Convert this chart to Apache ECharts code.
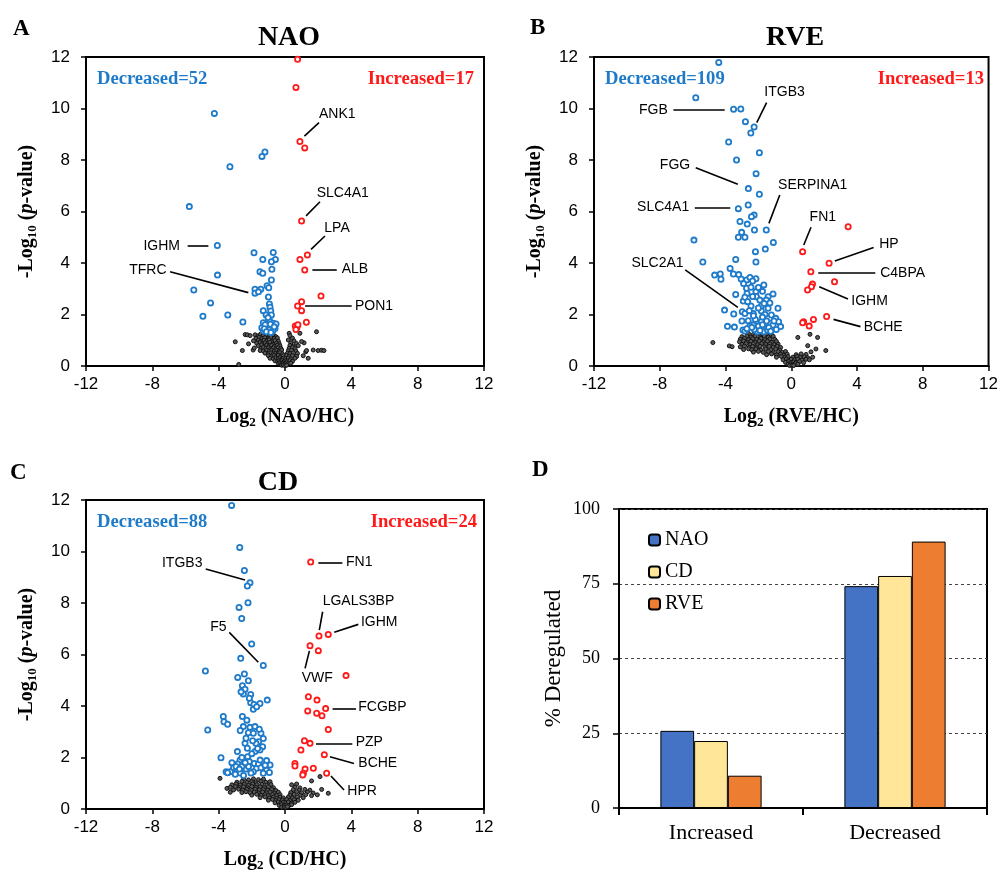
<!DOCTYPE html>
<html><head><meta charset="utf-8">
<script src="https://cdn.jsdelivr.net/npm/echarts@6.0.0/dist/echarts.min.js"></script>
<style>html,body{margin:0;padding:0;background:#fff}#c{width:1001px;height:873px}</style>
</head><body><div id="c"></div>
<script>
// ---------- Data ----------
const volcanoTicks = [-12,-8,-4,0,4,8,12];
// Panel A: NAO
const blueA = [[-4.26,9.81],[-1.21,8.31],[-1.39,8.14],[-3.32,7.74],[-5.77,6.19],[-4.08,4.68],[-4.07,3.53],[-5.5,2.95],[-4.49,2.45],[-4.95,1.93],[-3.45,1.98],[-2.54,1.71],
[-1.87,4.40],[-0.71,4.41],[-0.58,4.14],[-1.34,4.14],[-0.82,4.05],[-0.79,3.76],[-1.51,3.66],[-1.34,3.60],[-0.82,3.34],[-1.08,3.12],[-0.98,3.04],[-1.81,2.98],[-1.46,2.98],[-1.81,2.83],[-1.0,2.68],[-0.94,2.41],[-0.9,2.28],[-1.31,2.15],[-0.86,2.14],[-1.14,1.98],[-0.82,1.98],[-1.31,1.68],[-0.94,1.79],[-0.70,1.66],[-0.54,1.63],[-1.40,1.49],[-1.07,1.55],[-0.78,1.53],[-1.31,1.37],[-0.94,1.40],[-0.60,1.46],[-1.2,1.6],[-0.74,1.36],[-1.25,1.45],[-0.88,1.62],[-1.02,1.88],[-0.65,1.52],[-1.12,1.33],[-0.85,1.30],[-1.6,2.88]];
const redA = [[0.76,11.91],[0.66,10.82],[0.90,8.72],[1.19,8.47],[1.0,5.63],[1.35,4.31],[0.90,4.14],[1.19,3.73],[2.17,2.72],[1.0,2.50],[0.76,2.33],[1.0,2.15],[1.29,1.70],[0.62,1.55],[0.72,1.50],[0.66,1.42],[0.78,1.60]];
const blackA = [[-3.0,0.94],[-2.79,0.06],[-2.57,0.60],[-2.40,1.22],[-2.27,1.21],[-2.10,1.18],[-2.20,0.86],[-1.92,0.62],[1.90,1.33],[2.00,0.60],[2.20,0.61],[2.35,0.60],[1.70,0.62],[1.40,0.30],[1.15,0.90],[1.00,0.95],[0.90,1.27],[0.25,1.27],[1.25,0.55],[1.10,0.40],
[-1.80,1.21],[-1.62,1.17],[-1.48,1.23],[-1.30,1.19],[-1.12,1.22],[-0.92,1.16],[-0.70,1.20],[-0.55,1.14],[0.30,1.18],
[-1.75,1.08],[-1.55,1.12],[-1.40,1.06],[-1.22,1.10],[-1.02,1.05],[-0.86,1.11],[-0.64,1.07],[-0.46,1.09],[0.45,1.08],
[-1.90,0.98],[-1.60,1.01],[-1.46,0.96],[-1.26,1.00],[-1.10,0.97],[-0.96,1.02],[-0.80,0.95],[-0.60,0.99],[-0.40,0.96],[0.20,1.01],[0.55,0.97],
[-1.70,0.88],[-1.50,0.91],[-1.36,0.86],[-1.20,0.90],[-1.05,0.87],[-0.90,0.92],[-0.75,0.85],[-0.50,0.89],[-0.35,0.86],[0.35,0.90],[0.70,0.87],
[-1.60,0.79],[-1.40,0.82],[-1.25,0.77],[-1.10,0.81],[-0.95,0.78],[-0.80,0.80],[-0.65,0.76],[-0.45,0.81],[-0.30,0.78],[0.30,0.80],[0.50,0.77],[0.80,0.79],
[-1.85,0.70],[-1.45,0.68],[-1.30,0.72],[-1.15,0.69],[-1.00,0.71],[-0.85,0.67],[-0.70,0.70],[-0.55,0.66],[-0.40,0.71],[-0.25,0.68],[0.25,0.69],[0.45,0.72],[0.60,0.67],
[-1.50,0.60],[-1.30,0.58],[-1.10,0.62],[-0.95,0.59],[-0.80,0.61],[-0.65,0.57],[-0.50,0.60],[-0.35,0.58],[-0.20,0.62],[0.20,0.59],[0.40,0.61],[0.65,0.58],[1.30,0.60],
[-1.20,0.50],[-1.00,0.48],[-0.85,0.51],[-0.70,0.47],[-0.55,0.50],[-0.40,0.49],[-0.30,0.52],[-0.15,0.47],[0.15,0.50],[0.30,0.48],[0.50,0.51],[0.75,0.49],
[-1.00,0.40],[-0.80,0.38],[-0.65,0.41],[-0.50,0.39],[-0.40,0.42],[-0.25,0.38],[-0.10,0.40],[0.10,0.41],[0.25,0.38],[0.45,0.40],[0.70,0.37],
[-0.90,0.30],[-0.70,0.28],[-0.55,0.31],[-0.40,0.29],[-0.30,0.32],[-0.20,0.27],[-0.10,0.30],[0.05,0.29],[0.20,0.31],[0.35,0.28],[0.60,0.30],
[-0.60,0.20],[-0.45,0.18],[-0.35,0.21],[-0.25,0.19],[-0.15,0.22],[-0.05,0.18],[0.05,0.20],[0.15,0.19],[0.30,0.21],[0.45,0.18],
[-0.40,0.10],[-0.30,0.12],[-0.20,0.09],[-0.10,0.11],[0.00,0.08],[0.10,0.12],[0.20,0.09],[0.35,0.11],
[-0.20,0.03],[-0.10,0.04],[0.00,0.02],[0.10,0.03]];
const genesA = [
 {name:'ANK1', at:[2.05,9.77], side:'right', from:[2.05,9.45], to:[1.17,8.93]},
 {name:'SLC4A1', at:[1.91,6.71], side:'right', from:[2.11,6.38], to:[1.27,5.83]},
 {name:'LPA', at:[2.37,5.37], side:'right', from:[2.41,5.05], to:[1.57,4.53]},
 {name:'ALB', at:[3.42,3.75], side:'right', from:[1.65,3.75], to:[3.12,3.75]},
 {name:'PON1', at:[4.22,2.33], side:'right', from:[1.21,2.33], to:[4.02,2.33]},
 {name:'IGHM', at:[-6.33,4.67], side:'left', from:[-5.87,4.67], to:[-4.62,4.67]},
 {name:'TFRC', at:[-7.14,3.73], side:'left', from:[-6.93,3.66], to:[-2.21,2.85]}
];
// Panel B: RVE
const blueB = [[-4.41,11.79],[-5.81,10.42],[-3.51,9.97],[-3.07,9.98],[-2.79,9.49],[-2.26,9.28],[-2.46,9.05],[-3.81,8.70],[-1.94,8.28],[-3.33,8.0],[-2.14,7.47],[-2.61,6.89],[-1.94,6.67],
[-2.62,6.25],[-3.22,6.11],[-2.26,5.86],[-2.42,5.80],[-3.12,5.61],[-2.68,5.51],[-2.24,5.28],[-1.52,5.28],[-3.02,5.19],[-3.22,5.0],[-2.82,5.0],[-5.92,4.89],[-1.09,4.80],[-1.58,4.54],[-2.18,4.44],[-5.38,4.04],[-3.38,4.14],[-2.15,4.04],[-3.72,3.79],[-4.66,3.53],[-4.32,3.57],[-4.28,3.37],[-3.52,3.57],[-3.05,3.38],[-2.72,3.34],[-2.51,3.44],[-2.15,3.39],[-1.67,3.15],[-2.72,3.02],[-2.45,3.06],[-2.69,2.82],[-2.15,2.89],[-2.12,2.69],[-1.11,2.80],[-1.41,2.69],[-1.52,2.56],[-3.38,2.78],[-2.92,2.52],[-2.82,2.67],[-2.45,2.33],[-1.91,2.56],[-1.82,2.33],[-1.65,2.43],[-1.41,2.24],[-4.06,2.17],[-3.50,2.02],[-2.98,2.11],[-2.82,2.04],[-2.31,2.04],[-1.82,2.14],[-0.81,2.24],[-1.21,1.98],[-0.95,1.85],[-0.77,1.72],[-0.65,1.53],[-3.88,1.54],[-3.46,1.51],[-2.62,1.76],[-2.18,1.81],[-2.33,1.59],[-1.82,1.72],[-1.97,1.46],[-1.58,1.46],[-1.31,1.66],[-1.11,1.59],[-0.91,1.42],[-2.94,1.40],[-2.82,1.36],[-1.67,1.33],[-1.45,1.40],[-2.06,1.33],[-2.51,1.55],[-2.25,1.42],[-1.37,1.50],
[-2.0,1.55],[-1.75,1.6],[-1.5,1.75],[-2.4,1.5],[-1.9,1.38],[-1.25,1.35],[-2.7,1.45],[-3.0,1.75],[-2.3,1.95],[-1.6,2.0],[-2.55,2.15],[-2.0,2.25],[-2.65,2.5],[-1.3,2.45],[-2.35,2.7],[-1.75,2.9],[-2.9,3.2],[-2.35,3.3],[-3.2,3.55],[-2.0,3.05],[-1.05,1.75],[-1.75,1.9]];
const redB = [[3.46,5.41],[0.69,4.44],[2.30,3.99],[1.19,3.66],[2.63,3.27],[1.29,3.18],[1.23,3.08],[0.99,2.95],[2.15,1.92],[1.35,1.81],[0.75,1.72],[0.69,1.68],[1.09,1.55]];
const blackB = [[-4.77,0.91],[-3.77,0.78],[-3.60,0.75],[0.40,1.11],[1.14,1.23],[1.60,1.11],[1.00,0.79],[1.50,0.66],[2.10,0.60],[1.30,0.34],[1.20,0.55],[0.90,0.45],
[-2.60,1.26],[-2.30,1.23],[-2.00,1.27],[-1.75,1.22],[-1.50,1.25],[-1.20,1.21],
[-3.00,1.14],[-2.70,1.17],[-2.45,1.12],[-2.20,1.16],[-1.90,1.13],[-1.65,1.17],[-1.40,1.12],[-1.10,1.15],
[-3.10,1.04],[-2.85,1.07],[-2.60,1.02],[-2.35,1.06],[-2.10,1.03],[-1.85,1.07],[-1.60,1.02],[-1.30,1.05],[-1.00,1.03],
[-3.15,0.94],[-2.90,0.97],[-2.70,0.93],[-2.45,0.96],[-2.20,0.92],[-1.95,0.97],[-1.70,0.93],[-1.45,0.96],[-1.20,0.92],[-0.90,0.95],
[-3.00,0.84],[-2.75,0.87],[-2.50,0.83],[-2.30,0.86],[-2.05,0.82],[-1.80,0.87],[-1.55,0.84],[-1.30,0.86],[-1.05,0.83],[-0.80,0.85],
[-3.10,0.74],[-2.85,0.77],[-2.55,0.73],[-2.35,0.76],[-2.10,0.72],[-1.90,0.77],[-1.60,0.74],[-1.35,0.76],[-1.10,0.73],[-0.85,0.76],[-0.65,0.72],
[-2.90,0.64],[-2.60,0.67],[-2.40,0.63],[-2.15,0.66],[-1.85,0.62],[-1.55,0.66],[-1.25,0.63],[-0.95,0.66],[-0.70,0.62],
[-2.30,0.54],[-2.00,0.57],[-1.70,0.53],[-1.40,0.56],[-1.10,0.52],[-0.80,0.56],[-0.55,0.53],[-0.35,0.56],
[-1.50,0.44],[-1.20,0.47],[-0.90,0.43],[-0.65,0.46],[-0.45,0.42],[-0.25,0.46],[0.30,0.44],[0.60,0.47],
[-0.90,0.34],[-0.60,0.37],[-0.40,0.33],[-0.20,0.36],[0.10,0.34],[0.35,0.37],[0.55,0.33],[0.80,0.36],[1.00,0.32],
[-0.50,0.24],[-0.30,0.27],[-0.15,0.23],[0.00,0.26],[0.20,0.24],[0.40,0.27],[0.65,0.23],[0.90,0.26],[1.10,0.24],
[-0.35,0.14],[-0.15,0.17],[0.00,0.13],[0.15,0.16],[0.30,0.14],[0.50,0.17],[0.75,0.13],
[-0.20,0.07],[-0.05,0.08],[0.10,0.06],[0.25,0.09],[0.40,0.07],
[-0.10,0.02],[0.05,0.03],[0.15,0.02]];
const genesB = [
 {name:'ITGB3', at:[-1.64,10.65], side:'right', from:[-1.50,10.23], to:[-2.10,9.45]},
 {name:'FGB', at:[-7.51,9.94], side:'left', from:[-7.17,9.97], to:[-4.05,9.97]},
 {name:'FGG', at:[-6.15,7.81], side:'left', from:[-5.81,7.70], to:[-3.25,7.06]},
 {name:'SERPINA1', at:[-0.80,7.03], side:'right', from:[-0.70,6.64], to:[-1.36,5.54]},
 {name:'SLC4A1', at:[-6.21,6.15], side:'left', from:[-5.87,6.15], to:[-3.71,6.15]},
 {name:'FN1', at:[1.92,5.80], side:'center', from:[1.20,5.39], to:[0.76,4.70]},
 {name:'HP', at:[5.35,4.72], side:'right', from:[5.01,4.60], to:[2.65,4.08]},
 {name:'C4BPA', at:[5.41,3.60], side:'right', from:[1.64,3.62], to:[5.11,3.62]},
 {name:'IGHM', at:[3.65,2.52], side:'right', from:[1.70,3.08], to:[3.45,2.60]},
 {name:'BCHE', at:[4.41,1.50], side:'right', from:[2.57,1.81], to:[4.21,1.53]},
 {name:'SLC2A1', at:[-6.55,3.99], side:'left', from:[-6.45,3.73], to:[-3.25,2.28]}
];
// Panel C: CD
const blueC = [[-3.22,11.79],[-2.73,10.16],[-2.45,9.26],[-2.11,8.79],[-2.27,8.66],[-2.23,8.01],[-2.77,7.83],[-2.61,7.40],[-2.01,6.41],[-2.67,5.85],[-1.31,5.57],[-4.80,5.36],[-2.85,5.11],[-2.45,5.24],[-2.21,4.98],[-2.57,4.79],[-2.41,4.65],[-2.51,4.47],[-2.07,4.45],[-2.07,4.13],[-1.87,4.06],[-1.91,3.87],[-1.51,4.10],[-1.07,4.23],[-1.71,3.97],[-3.72,3.59],[-3.68,3.39],[-3.46,3.29],[-2.57,3.59],[-4.66,3.07],[-2.51,3.20],[-2.11,3.17],[-1.81,3.20],[-2.21,2.96],[-1.91,2.94],[-1.45,2.94],[-1.31,2.74],[-1.59,2.61],[-1.35,2.42],[-1.51,2.29],[-2.41,2.55],[-2.27,2.36],[-2.87,2.23],[-2.25,2.03],[-1.81,2.23],[-3.86,1.99],[-2.71,1.90],[-2.15,1.84],[-1.85,1.77],[-1.11,1.88],[-0.90,1.71],[-1.71,1.58],[-1.91,1.45],[-1.11,1.51],[-1.31,1.39],[-0.94,1.42],[-3.1,1.6],[-3.3,1.45],[-2.9,1.55],[-2.7,1.4],[-2.5,1.3],[-2.85,1.75],[-3.55,1.45],[-2.35,1.55],[-2.6,1.65],[-3.46,1.41],
[-2.95,1.65],[-2.75,1.55],[-3.0,1.35],[-2.2,1.65],[-2.05,1.4],[-1.6,1.75],[-1.45,1.6],[-1.2,1.7],[-2.4,1.8],[-2.6,2.0],[-2.0,2.15],[-1.65,2.35],[-2.35,2.75],[-1.75,2.55],[-2.7,3.05],[-1.95,2.65],[-1.55,3.1],[-2.3,3.45],[-2.15,4.3],[-2.65,4.55],[-1.5,1.9],[-3.2,1.8]];
const redC = [[1.55,9.59],[2.05,6.72],[2.61,6.78],[1.51,6.34],[2.01,6.15],[3.68,5.18],[1.41,4.36],[1.93,4.23],[2.45,3.90],[1.37,3.81],[1.91,3.72],[2.23,3.62],[2.61,3.09],[1.17,2.65],[1.51,2.55],[0.96,2.29],[2.37,2.11],[0.60,1.77],[0.60,1.67],[1.21,1.55],[1.71,1.58],[1.11,1.39],[1.07,1.32],[2.51,1.39]];
const blackC = [[-3.92,1.19],[1.60,1.09],[2.11,1.26],[2.21,0.76],[2.61,0.61],[-3.50,0.80],[-3.30,0.65],
[-2.50,1.16],[-2.20,1.13],[-1.90,1.17],[-1.60,1.14],[-1.30,1.16],
[-2.90,1.04],[-2.60,1.07],[-2.30,1.03],[-2.00,1.06],[-1.75,1.02],[-1.45,1.07],[-1.15,1.04],[-0.90,1.06],
[-3.20,0.94],[-2.95,0.97],[-2.70,0.93],[-2.45,0.96],[-2.20,0.92],[-1.95,0.97],[-1.70,0.94],[-1.40,0.96],[-1.10,0.93],[-0.85,0.95],[0.40,0.94],[0.70,0.97],
[-3.30,0.84],[-3.00,0.87],[-2.75,0.83],[-2.50,0.86],[-2.25,0.82],[-2.00,0.87],[-1.75,0.84],[-1.50,0.86],[-1.25,0.83],[-1.00,0.86],[-0.70,0.83],[0.60,0.85],[0.90,0.82],
[-3.10,0.74],[-2.80,0.77],[-2.55,0.73],[-2.30,0.76],[-2.00,0.72],[-1.80,0.77],[-1.55,0.74],[-1.30,0.76],[-1.05,0.73],[-0.80,0.76],[-0.55,0.72],[0.50,0.75],[0.85,0.73],[1.20,0.76],[1.50,0.73],
[-2.60,0.64],[-2.35,0.67],[-2.10,0.63],[-1.85,0.66],[-1.60,0.62],[-1.35,0.66],[-1.10,0.63],[-0.90,0.66],[-0.65,0.62],[-0.40,0.65],[0.35,0.64],[0.70,0.67],[1.00,0.63],[1.35,0.66],[1.70,0.62],
[-2.00,0.54],[-1.70,0.57],[-1.45,0.53],[-1.20,0.56],[-1.00,0.52],[-0.75,0.56],[-0.50,0.53],[-0.30,0.56],[0.30,0.54],[0.55,0.57],[0.90,0.53],[1.25,0.56],[1.60,0.52],[1.95,0.55],
[-1.50,0.44],[-1.20,0.47],[-0.95,0.43],[-0.70,0.46],[-0.50,0.42],[-0.30,0.46],[-0.10,0.43],[0.20,0.46],[0.45,0.43],[0.75,0.47],[1.10,0.44],
[-1.00,0.34],[-0.75,0.37],[-0.55,0.33],[-0.35,0.36],[-0.15,0.34],[0.10,0.37],[0.30,0.33],[0.55,0.36],[0.80,0.34],
[-0.60,0.24],[-0.40,0.27],[-0.25,0.23],[-0.10,0.26],[0.05,0.24],[0.20,0.27],[0.40,0.23],[0.60,0.26],
[-0.35,0.14],[-0.20,0.17],[-0.05,0.13],[0.10,0.16],[0.25,0.14],[0.40,0.17],
[-0.20,0.07],[-0.05,0.08],[0.05,0.06],[0.15,0.09]];
const genesC = [
 {name:'FN1', at:[3.68,9.57], side:'right', from:[2.01,9.57], to:[3.46,9.57]},
 {name:'ITGB3', at:[-4.98,9.54], side:'left', from:[-4.78,9.32], to:[-2.41,8.89]},
 {name:'LGALS3BP', at:[2.27,8.08], side:'right', from:[2.27,7.66], to:[2.07,6.95]},
 {name:'IGHM', at:[4.58,7.24], side:'right', from:[4.42,7.17], to:[2.97,6.86]},
 {name:'F5', at:[-3.52,7.06], side:'left', from:[-3.36,6.86], to:[-1.61,5.70]},
 {name:'VWF', at:[1.95,5.07], side:'center', from:[1.47,6.14], to:[1.21,5.46]},
 {name:'FCGBP', at:[4.42,3.95], side:'right', from:[2.87,3.91], to:[4.28,3.91]},
 {name:'PZP', at:[4.26,2.60], side:'right', from:[1.87,2.55], to:[4.06,2.55]},
 {name:'BCHE', at:[4.42,1.77], side:'right', from:[2.71,2.03], to:[4.16,1.77]},
 {name:'HPR', at:[3.76,0.71], side:'right', from:[2.77,1.28], to:[3.56,0.74]}
];
// Panel D
const barCategories = ['Increased','Decreased'];
const barNAO = [25.8, 74.2];
const barCD = [22.4, 77.6];
const barRVE = [10.8, 89.1];
const barTicks = [0,25,50,75,100];

// ---------- Styles ----------
const BLUE = '#1F7BC9', RED = '#FF1A1A';
const SERIF = '"Liberation Serif","Times New Roman",serif';
const SANS = '"Liberation Sans",Arial,sans-serif';

const grids = [
  {left:86, top:57, width:398, height:309},
  {left:594, top:57, width:399, height:309},
  {left:86, top:500, width:398, height:309},
  {left:619, top:509, width:368, height:299}
];

const axisNameRich = {
  b:{fontFamily:SERIF, fontWeight:'bold', fontSize:20, color:'#000', lineHeight:24},
  s:{fontFamily:SERIF, fontWeight:'bold', fontSize:13, color:'#000', lineHeight:14, verticalAlign:'bottom'},
  i:{fontFamily:SERIF, fontWeight:'bold', fontStyle:'italic', fontSize:20, color:'#000', lineHeight:24}
};

function vx(i, label){
  return {gridIndex:i, type:'value', min:-12, max:12, interval:4,
    name:'{b|Log}{s|2}{b| ('+label+'/HC)}', nameLocation:'middle', nameGap:39,
    nameTextStyle:{rich:axisNameRich},
    axisLine:{show:true, onZero:false, lineStyle:{color:'#000', width:2}},
    axisTick:{show:true, inside:false, length:5, lineStyle:{color:'#000', width:1.5}},
    axisLabel:{color:'#000', fontFamily:SANS, fontSize:17, margin:10},
    splitLine:{show:false}};
}
function vy(i){
  return {gridIndex:i, type:'value', min:0, max:12, interval:2,
    name:'{b|-Log}{s|10}{b| (}{i|p}{b|-value)}', nameLocation:'middle', nameGap:47, nameRotate:90,
    nameTextStyle:{rich:axisNameRich},
    axisLine:{show:true, onZero:false, lineStyle:{color:'#000', width:2}},
    axisTick:{show:true, inside:false, length:5, lineStyle:{color:'#000', width:1.5}},
    axisLabel:{color:'#000', fontFamily:SANS, fontSize:17, margin:16},
    splitLine:{show:false}};
}

function volcanoSeries(i, black, blue, red, genes){
  const ax = {xAxisIndex:i, yAxisIndex:i};
  return [
    Object.assign({type:'scatter', data:black, symbolSize:4, z:2,
      itemStyle:{color:'#5a5a5a', borderColor:'#111', borderWidth:1, opacity:1}}, ax),
    Object.assign({type:'scatter', data:blue, symbolSize:5.2, z:3,
      itemStyle:{color:'#ffffff', borderColor:BLUE, borderWidth:1.8, opacity:1}}, ax),
    Object.assign({type:'scatter', data:red, symbolSize:5.2, z:3,
      itemStyle:{color:'#ffffff', borderColor:RED, borderWidth:1.8, opacity:1}}, ax),
    Object.assign({type:'scatter', symbolSize:0, silent:true, z:5,
      data: genes.map(g => ({value:g.at, name:g.name, label:{show:true,
        position: g.side==='center' ? 'inside' : g.side, distance:0,
        formatter:g.name, fontFamily:SANS, fontSize:14, color:'#000', opacity:1}})),
      markLine:{silent:true, symbol:['none','none'], animation:false,
        label:{show:false}, emphasis:{disabled:true},
        lineStyle:{color:'#000', width:1.6, type:'solid', opacity:1},
        data: genes.map(g => [{coord:g.from},{coord:g.to}])}
    }, ax)
  ];
}

function txt(x, y, text, font, fill, align){
  return {type:'text', x:x, y:y, silent:true, z:100,
    style:{text:text, font:font, fill:fill||'#000', textAlign:align||'left', textVerticalAlign:'middle', align:align||'left', verticalAlign:'middle'}};
}

const option = {
  animation:false,
  backgroundColor:'#fff',
  grid: grids.map(g => Object.assign({show:true, borderColor:'#000', borderWidth:2, backgroundColor:'transparent', containLabel:false}, g)),
  xAxis: [vx(0,'NAO'), vx(1,'RVE'), vx(2,'CD'),
    {gridIndex:3, type:'category', data:barCategories,
      axisLine:{lineStyle:{color:'#000', width:2}},
      axisTick:{show:true, alignWithLabel:false, length:7, lineStyle:{color:'#000', width:2}},
      axisLabel:{color:'#000', fontFamily:SERIF, fontSize:22, margin:14}}],
  yAxis: [vy(0), vy(1), vy(2),
    {gridIndex:3, type:'value', min:0, max:100, interval:25,
      name:'% Deregulated', nameLocation:'middle', nameGap:54, nameRotate:90,
      nameTextStyle:{fontFamily:SERIF, fontSize:23, color:'#000'},
      axisLine:{show:true, lineStyle:{color:'#000', width:2}},
      axisTick:{show:true, length:6, lineStyle:{color:'#000', width:1.5}},
      axisLabel:{color:'#000', fontFamily:SERIF, fontSize:18, margin:19},
      splitLine:{show:true, lineStyle:{color:'#444', type:[3,3], width:1}}}],
  legend:{data:['NAO','CD','RVE'], orient:'vertical', left:643, top:525, itemWidth:11, itemHeight:11, itemGap:12,
    textStyle:{fontFamily:SERIF, fontSize:20, color:'#000'}, selectedMode:false},
  series: [].concat(
    volcanoSeries(0, blackA, blueA, redA, genesA),
    volcanoSeries(1, blackB, blueB, redB, genesB),
    volcanoSeries(2, blackC, blueC, redC, genesC),
    [
      {type:'bar', name:'NAO', data:barNAO, xAxisIndex:3, yAxisIndex:3, barGap:'0%', barCategoryGap:'45%',
        itemStyle:{color:'#4472C4', borderColor:'#000', borderWidth:1}},
      {type:'bar', name:'CD', data:barCD, xAxisIndex:3, yAxisIndex:3, barGap:'0%', barCategoryGap:'45%',
        itemStyle:{color:'#FFE699', borderColor:'#000', borderWidth:1}},
      {type:'bar', name:'RVE', data:barRVE, xAxisIndex:3, yAxisIndex:3, barGap:'0%', barCategoryGap:'45%',
        itemStyle:{color:'#ED7D31', borderColor:'#000', borderWidth:1}}
    ]
  ),
  graphic: [
    txt(13, 29, 'A', 'bold 23px '+SERIF),
    txt(530, 28, 'B', 'bold 23px '+SERIF),
    txt(10, 473, 'C', 'bold 23px '+SERIF),
    txt(532, 470, 'D', 'bold 23px '+SERIF),
    txt(289, 38, 'NAO', 'bold 28px '+SERIF, '#000', 'center'),
    txt(795, 38, 'RVE', 'bold 28px '+SERIF, '#000', 'center'),
    txt(278, 483, 'CD', 'bold 28px '+SERIF, '#000', 'center'),
    txt(97, 79, 'Decreased=52', 'bold 18.6px '+SERIF, BLUE, 'left'),
    txt(474, 79, 'Increased=17', 'bold 18.6px '+SERIF, RED, 'right'),
    txt(605, 79, 'Decreased=109', 'bold 18.6px '+SERIF, BLUE, 'left'),
    txt(984, 79, 'Increased=13', 'bold 18.6px '+SERIF, RED, 'right'),
    txt(97, 522, 'Decreased=88', 'bold 18.6px '+SERIF, BLUE, 'left'),
    txt(477, 522, 'Increased=24', 'bold 18.6px '+SERIF, RED, 'right')
  ]
};
const chart = echarts.init(document.getElementById('c'), null, {renderer:'canvas', width:1001, height:873});
chart.setOption(option);
</script>
</body></html>
